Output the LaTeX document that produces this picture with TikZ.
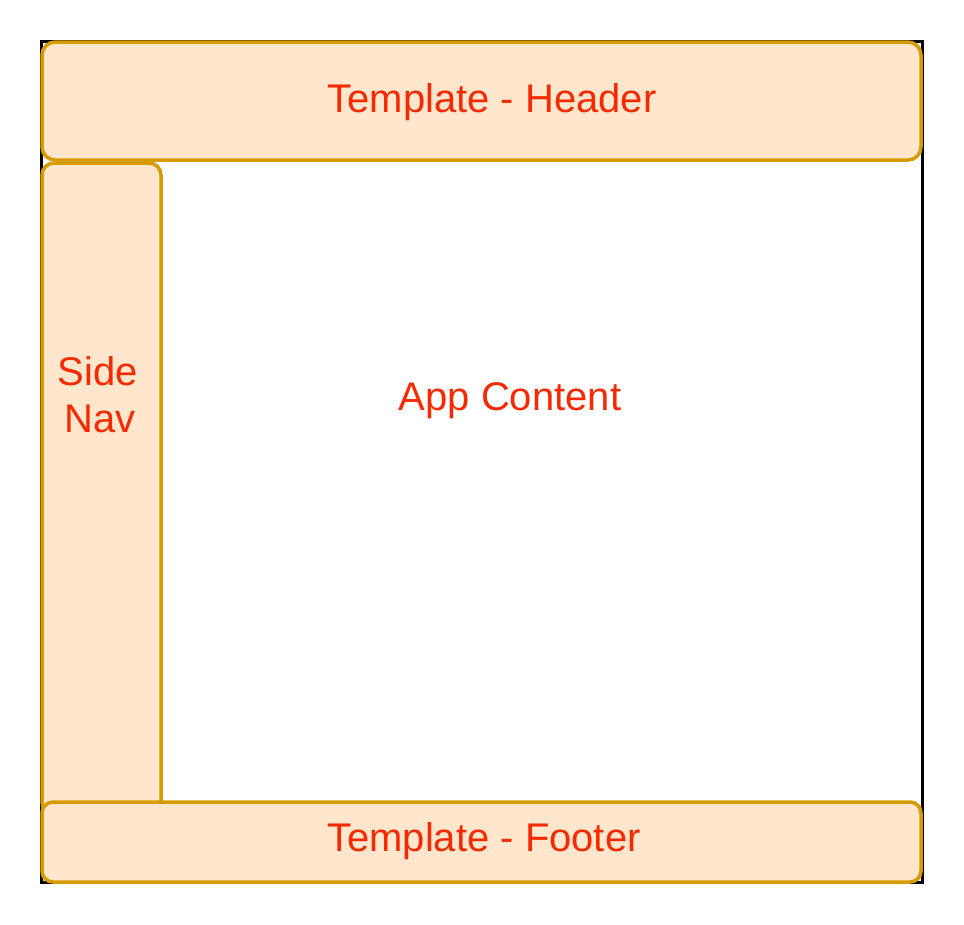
\documentclass[tikz,border=0pt]{standalone}
\usepackage{fontspec}
\setmainfont{Liberation Sans}
\definecolor{panelfill}{HTML}{FFE6CC}
\definecolor{paneldraw}{HTML}{D79B00}
\definecolor{labelred}{HTML}{F52A00}
\begin{document}
\begin{tikzpicture}[x=1pt,y=-1pt,
  panel/.style={draw=paneldraw, fill=panelfill, line width=3.5pt},
  label/.style={text=labelred, font=\fontsize{40}{47}\selectfont, inner sep=0pt, anchor=base}]
  \useasboundingbox (0,0) rectangle (964,924);
  % outer frame of the page
  \draw[line width=3pt, black] (41.5,41.5) rectangle (922,882.5);
  % side navigation (its lower end sits under the footer), header and footer panels
  \draw[panel, rounded corners=12pt] (42,163) rectangle (161,814);
  \draw[panel, rounded corners=13pt] (42,42) rectangle (921,160);
  \draw[panel, rounded corners=11pt] (42,802) rectangle (921,882);
  % labels
  \node[label] (header) at (492,112) {Template - Header};
  \node[label] (sideA) at (98,385) {Side};
  \node[label] (sideB) at (100,432) {Nav};
  \node[label] (content) at (510,410) {App Content};
  \node[label] (footer) at (484,851) {Template - Footer};
\end{tikzpicture}
\end{document}
